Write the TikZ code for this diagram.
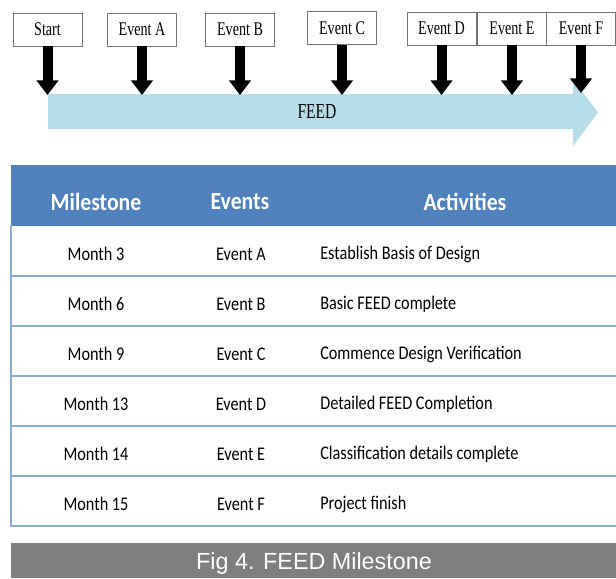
\documentclass[tikz,border=0pt]{standalone}
\usepackage{fontspec}
\setmainfont{Liberation Serif}
\newfontfamily\boxfont[FakeStretch=0.73]{Liberation Serif}
\newfontfamily\tablefont[FakeStretch=0.84]{Carlito}
\newfontfamily\headfont[FakeStretch=0.88]{Carlito Bold}
\newfontfamily\capfont{Liberation Sans}
\usetikzlibrary{arrows.meta}
\definecolor{feedblue}{HTML}{B7DEE8}
\definecolor{headblue}{HTML}{4F81BD}
\definecolor{rowline}{HTML}{8EAADB}
\definecolor{capgray}{HTML}{7F7F7F}
\begin{document}
\begin{tikzpicture}[x=0.75pt,y=-0.75pt,
  eventbox/.style={draw=black!55,fill=white,line width=0.6pt,minimum width=51.75pt,
    minimum height=24.75pt,inner sep=0pt,font=\boxfont\fontsize{14.5}{15}\selectfont},
  down/.style={line width=7.5pt,-{Triangle[width=16pt,length=11pt]}},
  cell/.style={font=\tablefont\fontsize{14.5}{16}\selectfont,inner sep=0pt},
  head/.style={font=\headfont\fontsize{18.5}{20}\selectfont,text=white,inner sep=0pt}]
\useasboundingbox (0,0) rectangle (616,578);
\fill[feedblue] (48,94) -- (573,94) -- (573,79) -- (598,112.5) -- (573,146)
    -- (573,129) -- (48,129) -- cycle;
\node[font=\boxfont\fontsize{16}{17}\selectfont] (feed) at (317,112) {FEED};
\node[eventbox] (start) at (47.5,29.5) {Start};
\node[eventbox] (evA) at (142,29.5) {Event A};
\node[eventbox] (evB) at (240,29.5) {Event B};
\node[eventbox] (evC) at (342,28) {Event C};
\node[eventbox] (evD) at (441.5,28.5) {Event D};
\node[eventbox] (evE) at (512,28.5) {Event E};
\node[eventbox] (evF) at (581,28.5) {Event F};
\coordinate (tS) at (47.5,95);
\coordinate (tA) at (142,95);
\coordinate (tB) at (240,95);
\coordinate (tC) at (342,95);
\coordinate (tD) at (441.5,95);
\coordinate (tE) at (512,95);
\coordinate (tF) at (581,93);
\draw[down] (start) -- (tS);
\draw[down] (evA) -- (tA);
\draw[down] (evB) -- (tB);
\draw[down] (evC) -- (tC);
\draw[down] (evD) -- (tD);
\draw[down] (evE) -- (tE);
\draw[down] (evF) -- (tF);
\fill[headblue] (11,165) rectangle (616,226);
\node[head] (hMile) at (96,202) {Milestone};
\node[head] (hEvent) at (240,202) {Events};
\node[head] (hAct) at (465,202) {Activities};
\foreach \i in {1,...,6}
  \draw[rowline,line width=0.9pt] (11,226+50*\i) -- (616,226+50*\i);
\draw[rowline,line width=0.9pt] (11,226) -- (11,527);
\foreach \m/\e/\a [count=\i] in {Month 3/Event A/Establish Basis of Design,
    Month 6/Event B/Basic FEED complete,
    Month 9/Event C/Commence Design Verification,
    Month 13/Event D/Detailed FEED Completion,
    Month 14/Event E/Classification details complete,
    Month 15/Event F/Project finish}{
  \node[cell] (mon\i) at (96,204+50*\i) {\m};
  \node[cell] (ev\i) at (241,204+50*\i) {\e};
  \node[cell,anchor=west] (act\i) at (320,204+50*\i) {\a};
}
\fill[capgray] (11,543) rectangle (616,578);
\node[text=white,font=\capfont\fontsize{17.5}{18}\selectfont] (cap) at (314,563)
    {Fig 4. FEED Milestone};
\end{tikzpicture}
\end{document}
